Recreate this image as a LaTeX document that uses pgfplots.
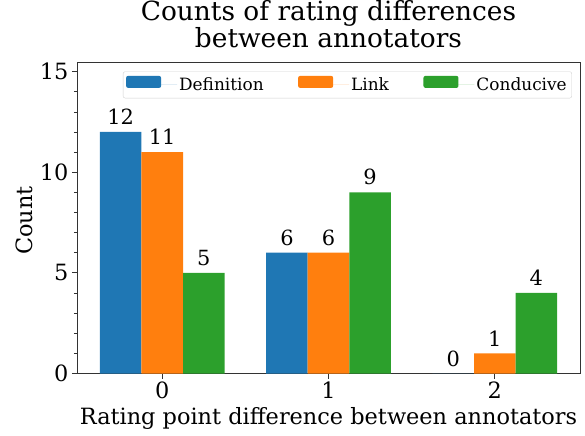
\documentclass[border=0pt]{standalone}
\usepackage{fontspec}
\setmainfont{DejaVu Serif}
\usepackage{pgfplots}
\pgfplotsset{compat=1.18}
\definecolor{cA}{HTML}{1F77B4}
\definecolor{cB}{HTML}{FF7F0E}
\definecolor{cC}{HTML}{2CA02C}
\begin{document}
\begin{tikzpicture}
\begin{axis}[
  at={(0,0)}, anchor=south west,
  scale only axis, width=503bp, height=311bp,
  xmin=-0.5125, xmax=2.5125, ymin=0, ymax=15.45,
  xtick={0,1,2}, ytick={0,5,10,15},
  minor ytick={1,2,3,4,6,7,8,9,11,12,13,14},
  tick align=outside, tick pos=left,
  major tick length=5bp, minor tick length=3bp,
  axis line style={black!80, line width=0.8bp},
  every tick/.style={black!80, line width=0.8bp},
  every minor tick/.style={black!80, line width=0.6bp},
  ticklabel style={font=\fontsize{22.5}{22}\selectfont},
  /pgf/number format/assume math mode=true,
  ybar=0pt, bar width=0.25,
  title={Counts of rating differences\\between annotators},
  title style={align=center, font=\fontsize{26.5}{28}\selectfont, at={(0.5,1)}, anchor=south, inner sep=0pt, yshift=8bp},
  xlabel={Rating point difference between annotators},
  xlabel style={font=\fontsize{22.5}{20}\selectfont, at={(0.5,0)}, anchor=base, yshift=-51bp},
  legend style={at={(0.984,0.971)}, anchor=north east, draw=black!18, rounded corners=2pt, fill=white,
    font=\fontsize{17}{17}\selectfont, inner xsep=3bp, inner ysep=4bp,
    /tikz/every even column/.append style={column sep=32.5bp}},
  legend columns=3,
  legend image code/.code={\fill[#1] (0bp,-3bp) rectangle (35bp,9bp); \path (0bp,0bp) -- (51bp,0bp);},
  nodes near coords,
  nodes near coords style={font=\fontsize{21}{21}\selectfont, text=black, inner sep=2bp, yshift=5bp, /pgf/number format/assume math mode=true},
]
\addplot[fill=cA, draw=none] coordinates {(0,12) (1,6) (2,0)};
\addplot[fill=cB, draw=none] coordinates {(0,11) (1,6) (2,1)};
\addplot[fill=cC, draw=none] coordinates {(0,5) (1,9) (2,4)};
\legend{Definition, Link, Conducive}
\end{axis}
\node[rotate=90, anchor=center, font=\fontsize{22.5}{20}\selectfont] at (-53bp,153bp) {Count};
\path (-77bp,-62bp) rectangle (508bp,373bp);
\end{tikzpicture}
\end{document}
